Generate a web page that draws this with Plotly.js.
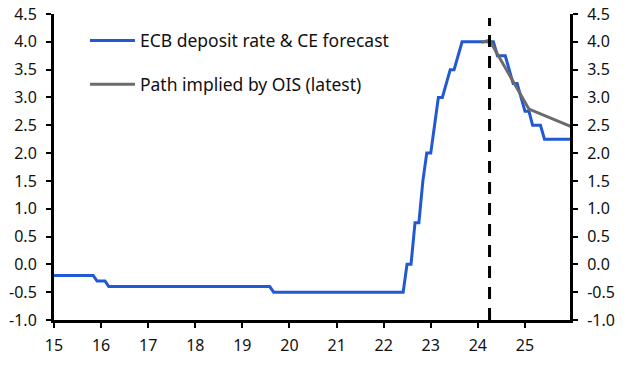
<!DOCTYPE html>
<html>
<head>
<meta charset="utf-8">
<script src="https://cdn.plot.ly/plotly-3.0.1.min.js"></script>
<style>html,body{margin:0;padding:0;background:#fff;}#chart{width:628px;height:371px;}</style>
</head>
<body>
<div id="chart"></div>
<script>
// ECB deposit rate & CE forecast (monthly, change points), %
const ecbDates = ["2015-01-01","2015-11-01","2015-12-01","2016-02-01","2016-03-01","2019-08-01","2019-09-01",
  "2022-06-01","2022-07-01","2022-08-01","2022-09-01","2022-10-01","2022-11-01","2022-12-01","2023-01-01",
  "2023-02-01","2023-03-01","2023-04-01","2023-05-01","2023-06-01","2023-07-01","2023-08-01","2023-09-01",
  "2024-05-01","2024-06-01","2024-08-01","2024-09-01","2024-10-01","2024-11-01","2024-12-01","2025-01-01",
  "2025-02-01","2025-03-01","2025-05-01","2025-06-01","2026-01-01"];
const ecbRate = [-0.2,-0.2,-0.3,-0.3,-0.4,-0.4,-0.5,
  -0.5,0.0,0.0,0.75,0.75,1.5,2.0,2.0,
  2.5,3.0,3.0,3.25,3.5,3.5,3.75,4.0,
  4.0,3.75,3.75,3.5,3.25,3.25,3.0,2.75,
  2.75,2.5,2.5,2.25,2.25];

// Path implied by OIS (latest), %
const oisDates = ["2024-02-01","2024-04-01","2025-02-01","2026-01-01"];
const oisRate = [3.99,4.03,2.79,2.47];

// Forecast start marker
const forecastStart = "2024-04-01";
const markerTop = 4.43;

const xTickVals = ["2015-01-01","2016-01-01","2017-01-01","2018-01-01","2019-01-01","2020-01-01",
  "2021-01-01","2022-01-01","2023-01-01","2024-01-01","2025-01-01"];
const xTickText = ["15","16","17","18","19","20","21","22","23","24","25"];
const yTickVals = [-1,-0.5,0,0.5,1,1.5,2,2.5,3,3.5,4,4.5];
const yTickText = ["-1.0","-0.5","0.0","0.5","1.0","1.5","2.0","2.5","3.0","3.5","4.0","4.5"];

const FONT = "'Noto Sans', 'Open Sans', sans-serif";
const blue = "#2259D3";
const grey = "#6B6B6B";

const traces = [
  {x: ecbDates, y: ecbRate, type: "scatter", mode: "lines", name: "ECB deposit rate & CE forecast",
   line: {color: blue, width: 3}, legendgroup: "a", hoverinfo: "skip"},
  {x: oisDates, y: oisRate, type: "scatter", mode: "lines", name: "Path implied by OIS (latest)",
   line: {color: grey, width: 3}, legendgroup: "b", yaxis: "y2", hoverinfo: "skip"}
];

const yCommon = {
  range: [-1, 4.5], tickvals: yTickVals, ticktext: yTickText, showgrid: false, zeroline: false,
  showline: true, linecolor: "#000", linewidth: 3, ticks: "outside", ticklen: 5, tickwidth: 2,
  tickcolor: "#000", tickfont: {family: FONT, size: 16, color: "#111"}, fixedrange: true,
  ticklabelstandoff: 6
};

const layout = {
  width: 628, height: 371,
  margin: {l: 54, r: 58, t: 14, b: 51},
  paper_bgcolor: "#fff", plot_bgcolor: "#fff",
  showlegend: true,
  legend: {x: 0.06, y: 0.972, xanchor: "left", yanchor: "top", bgcolor: "rgba(0,0,0,0)",
    font: {family: FONT, size: 17.5, color: "#111"}, tracegroupgap: 18, traceorder: "grouped",
    itemwidth: 45},
  xaxis: {type: "date", range: ["2015-01-01", "2025-12-16"], tickvals: xTickVals, ticktext: xTickText,
    showgrid: false, zeroline: false, showline: true, linecolor: "#000", linewidth: 3,
    ticks: "outside", ticklen: 5, tickwidth: 2, tickcolor: "#000", ticklabelstandoff: 4,
    tickfont: {family: FONT, size: 16, color: "#111"}, fixedrange: true},
  yaxis: Object.assign({}, yCommon, {side: "left"}),
  yaxis2: Object.assign({}, yCommon, {side: "right", overlaying: "y", anchor: "x"}),
  shapes: [{type: "line", xref: "x", yref: "y", x0: forecastStart, x1: forecastStart, y0: -1, y1: markerTop,
    line: {color: "#000", width: 3, dash: "12px,9px"}}]
};

Plotly.newPlot("chart", traces, layout, {staticPlot: true, displayModeBar: false});
</script>
</body>
</html>
